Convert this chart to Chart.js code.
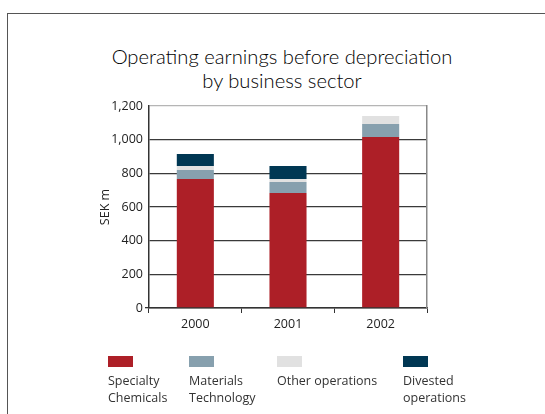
<!DOCTYPE html>
<html>
<head>
<meta charset="utf-8">
<script src="https://cdn.jsdelivr.net/npm/chart.js@4"></script>
<style>
  html, body { margin: 0; padding: 0; background: #fff; }
  #wrap { position: relative; width: 545px; height: 414px; overflow: hidden; font-family: 'Open Sans', sans-serif; }
  #frame { position: absolute; left: 7px; top: 13px; width: 600px; height: 500px;
    border-left: 1.5px solid #555; border-top: 1.5px solid #555; }
  #title { position: absolute; left: 0; top: 44px; width: 564px; text-align: center;
    font-family: Lato, sans-serif; font-weight: 300; font-size: 20.2px; line-height: 24px; color: #000; }
  #chart { position: absolute; left: 0; top: 0; }
  #legend { position: absolute; left: 0; top: 356px; width: 545px; height: 58px; }
  .item { position: absolute; top: 0; font-size: 12.5px; line-height: 17px; color: #333; }
  .item .sw { width: 25px; height: 11px; margin-bottom: 5px; }
  .item:nth-child(1) { left: 108px; }
  .item:nth-child(2) { left: 189px; }
  .item:nth-child(3) { left: 277px; }
  .item:nth-child(4) { left: 403px; }
</style>
</head>
<body>
<div id="wrap">
  <div id="frame"></div>
  <div id="title">Operating earnings before depreciation<br>by business sector</div>
  <canvas id="chart" width="545" height="414"></canvas>
  <div id="legend"></div>
</div>
<script>
// ---------- DATOS
const years = ['2000', '2001', '2002'];
const specialtyChemicals = [766, 683, 1016];
const materialsTechnology = [54, 66, 77];
const otherOperations = [24, 17, 48];
const divestedOperations = [71, 78, 0];
const yTicks = [0, 200, 400, 600, 800, 1000, 1200];

const seriesNames = [['Specialty', 'Chemicals'], ['Materials', 'Technology'], ['Other operations'], ['Divested', 'operations']];
const seriesColors = ['#ad1f27', '#87a0ae', '#e1e1e1', '#003753'];

// ---------- GRÁFICO DE BARRAS APILADAS
const ctx = document.getElementById('chart').getContext('2d');
const allSeries = [specialtyChemicals, materialsTechnology, otherOperations, divestedOperations];

const myChart = new Chart(ctx, {
  type: 'bar',
  data: {
    labels: years,
    datasets: allSeries.map(function (values, i) {
      return {
        label: seriesNames[i].join(' '),
        data: values,
        backgroundColor: seriesColors[i],
        borderWidth: 0,
        categoryPercentage: 1,
        barPercentage: 0.4
      };
    })
  },
  options: {
    responsive: false,
    animation: false,
    layout: {
      padding: { left: 88, right: 118, top: 106, bottom: 76 }
    },
    plugins: {
      legend: { display: false },
      title: { display: false },
      tooltip: { enabled: false }
    },
    scales: {
      x: {
        stacked: true,
        grid: {
          offset: true,
          drawOnChartArea: false,
          drawTicks: true,
          tickLength: 5,
          tickColor: '#333',
          lineWidth: 1
        },
        border: { display: true, color: '#333', width: 1.5 },
        ticks: {
          padding: 4,
          color: '#222',
          font: { family: 'Open Sans', size: 12.5 }
        },
        afterFit: function (scale) { scale.height = 30; }
      },
      y: {
        stacked: true,
        min: 0,
        max: 1200,
        afterBuildTicks: function (scale) {
          scale.ticks = yTicks.map(function (v) { return { value: v }; });
        },
        grid: {
          color: function (c) { return c.tick && c.tick.value === 1200 ? '#b5b5b5' : '#3a3a3a'; },
          lineWidth: 1.3,
          drawTicks: true,
          tickLength: 4,
          tickColor: function (c) { return c.tick && c.tick.value === 0 ? '#333' : 'rgba(0,0,0,0)'; }
        },
        border: { display: true, color: '#333', width: 1.5 },
        ticks: {
          padding: 2,
          color: '#222',
          font: { family: 'Open Sans', size: 12.5 },
          callback: function (v) { return v.toLocaleString('en-US'); }
        },
        title: {
          display: true,
          text: 'SEK m',
          color: '#222',
          font: { family: 'Open Sans', size: 12.5 },
          padding: { top: 10, bottom: 0 }
        },
        afterFit: function (scale) { scale.width = 61; }
      },
      y2: {
        position: 'right',
        min: 0,
        max: 1200,
        grid: { display: false },
        ticks: { display: false },
        border: { display: true, color: '#888', width: 1.5 },
        afterFit: function (scale) { scale.width = 0; }
      }
    }
  }
});

// ---------- LEYENDA
const legendBox = document.getElementById('legend');
seriesNames.forEach(function (name, i) {
  const item = document.createElement('div');
  item.className = 'item';
  const sw = document.createElement('div');
  sw.className = 'sw';
  sw.style.background = seriesColors[i];
  item.appendChild(sw);
  name.forEach(function (line) {
    const t = document.createElement('div');
    t.textContent = line;
    item.appendChild(t);
  });
  legendBox.appendChild(item);
});
</script>
</body>
</html>
